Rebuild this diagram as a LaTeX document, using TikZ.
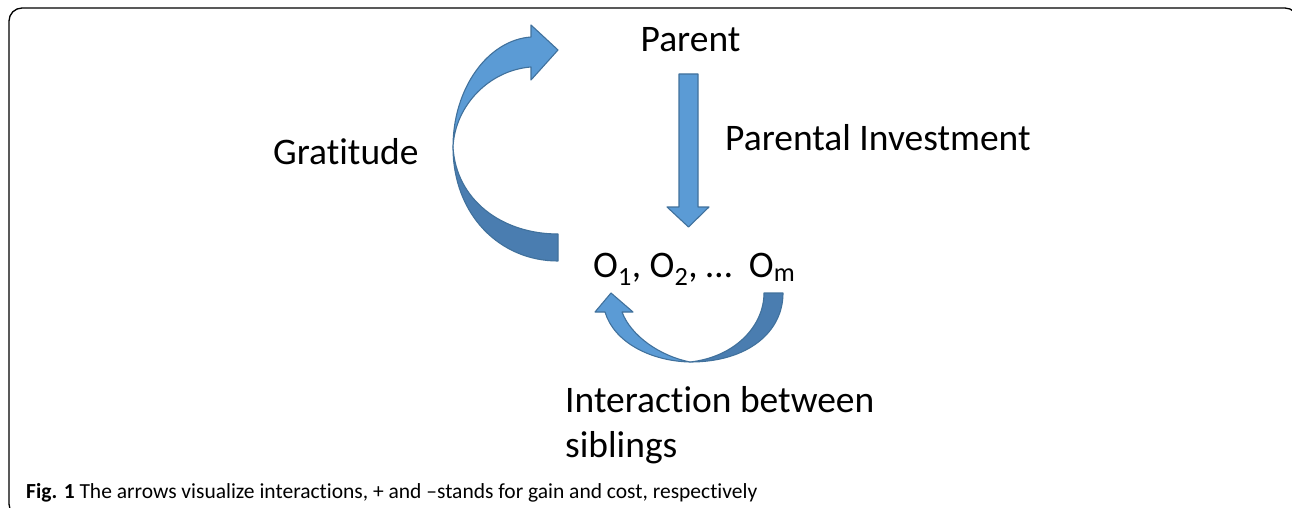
\documentclass[tikz,border=0pt]{standalone}
\usepackage{fontspec}
\setmainfont{Carlito}[Ligatures=NoCommon]
\usepackage{xcolor}
\usepackage{tikz}
\definecolor{arrowblue}{HTML}{5B9BD5}
\definecolor{arrowdark}{HTML}{4A7DB0}
\definecolor{arrowedge}{HTML}{41719C}

\begin{document}
\begin{tikzpicture}[x=1pt,y=-1pt,
		lbl/.style={inner sep=0pt,anchor=base west,font=\fontsize{37.5}{44.5}\selectfont},
		front/.style={fill=arrowblue,draw=arrowedge,line width=1.1pt,line join=round},
		back/.style={fill=arrowdark,draw=arrowedge,line width=1.1pt,line join=round}]
			\useasboundingbox (0,0) rectangle (1292,508);
			\clip (0,0) rectangle (1292,508);
			\draw[line width=1.3pt,rounded corners=13pt] (9,8) rectangle (1298,517);

			\node[lbl,anchor=base] (parent) at (690.5,52) {Parent};
			\node[lbl] (invest) at (725,150) {Parental Investment};
			\node[lbl] (gratitude) at (273,164) {Gratitude};
			\node[lbl] (offspring) at (593,277) {O\textsubscript{1}, O\textsubscript{2}, …\ \ O\textsubscript{m}};
			\node[lbl,align=left] (siblings) at (565,457) {Interaction between\\siblings};
			\node[inner sep=0pt,anchor=base west,font=\fontsize{21.5}{25}\selectfont] (caption) at (26,498)
				{\textbf{Fig. 1} The arrows visualize interactions, + and –stands for gain and cost, respectively};

			% parental investment
			\draw[front] (679,74) -- (698,74) -- (698,207) -- (709,207) -- (688.5,227)
				-- (667,207) -- (679,207) -- cycle;

			% gratitude
			\draw[back] (453,147) .. controls (453,215) and (500,261) .. (558,261)
				-- (558,234) .. controls (502,234) and (456,200) .. cycle;
			\draw[front] (453,147) .. controls (453,88) and (488,40) .. (531,37)
				-- (531,25) -- (558,50) -- (531,80) -- (531,67)
				.. controls (490,70) and (455,105) .. cycle;

			% siblings
			\draw[back] (690,362) .. controls (748,362) and (783,332) .. (783,293)
				-- (764,293) .. controls (764,326) and (735,357) .. cycle;
			\draw[front] (690,362) .. controls (650,361) and (614,342) .. (605,312)
				-- (595,312) -- (611,293) -- (633,312) -- (622,312)
				.. controls (631,336) and (660,356) .. cycle;
		\end{tikzpicture}
\end{document}
